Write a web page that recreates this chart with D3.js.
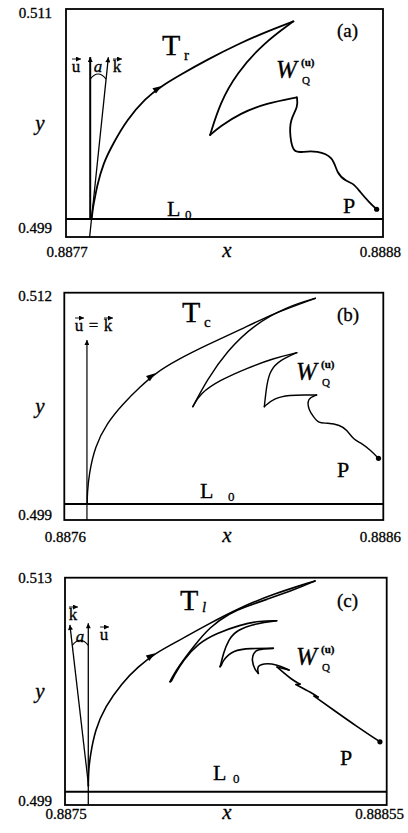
<!DOCTYPE HTML>
<html lang="en">
<head>
<meta charset="UTF-8">
<title>Trajectories T_r, T_c, T_l</title>
<style>
  body { margin: 0; background: #fff; }
  svg { display: block; font-family: "Liberation Serif", "Times New Roman", Times, serif; }
  svg text { stroke: #000; stroke-width: 0.3px; }
</style>
</head>
<body>
<script src="https://cdn.jsdelivr.net/npm/d3@7/dist/d3.min.js"></script>
<script>
// ---- panel (a)
var xDomainA = [0.8877, 0.8888], yDomainA = [0.499, 0.511];
var xTicksA = ['0.8877', '0.8888'], yTicksA = ['0.499', '0.511'];
var levelA = 0.49995;
var pointA = [0.888778, 0.50046];
var uA = [[0.887784, 0.49995], [0.887784, 0.50847]];
var kA = [[0.887782, 0.499], [0.887847, 0.50846]];
var trajA = [
  [0.887789, 0.49995], [0.887794, 0.50060], [0.887799, 0.50095], [0.887807, 0.50165],
  [0.887829, 0.50288], [0.887864, 0.50393], [0.887911, 0.50516], [0.887975, 0.50630],
  [0.888032, 0.50695], [0.888096, 0.50753], [0.888188, 0.50832], [0.888304, 0.50920],
  [0.888396, 0.50981], [0.888489, 0.51035]
];
var wingA = [
  [0.888385, 0.50920], [0.888292, 0.50762], [0.888234, 0.50604], [0.888200, 0.50437],
  [0.888234, 0.50481], [0.888304, 0.50551], [0.888396, 0.50604], [0.888501, 0.50635],
  [0.888506, 0.50586], [0.888477, 0.50516], [0.888477, 0.50428], [0.888489, 0.50341],
  [0.888523, 0.50349], [0.888570, 0.50354], [0.888628, 0.50323], [0.888639, 0.50235],
  [0.888674, 0.50191], [0.888697, 0.50183], [0.888720, 0.50138], [0.888755, 0.50077],
  [0.888778, 0.50046]
];

// ---- panel (b)
var xDomainB = [0.8876, 0.8886], yDomainB = [0.499, 0.512];
var xTicksB = ['0.8876', '0.8886'], yTicksB = ['0.499', '0.512'];
var levelB = 0.49992;
var pointB = [0.888585, 0.50253];
var uB = [[0.887671, 0.499], [0.887671, 0.50929]];
var trajB = [
  [0.887672, 0.49992], [0.887672, 0.50053], [0.887678, 0.50167], [0.887696, 0.50319],
  [0.887733, 0.50453], [0.887785, 0.50567], [0.887838, 0.50662], [0.887885, 0.50739],
  [0.887953, 0.50815], [0.888047, 0.50901], [0.888151, 0.50987], [0.888256, 0.51082],
  [0.888387, 0.51168]
];
var wingB = [
  [0.888298, 0.51120], [0.888193, 0.51015], [0.888110, 0.50866], [0.888047, 0.50701],
  [0.888003, 0.50548], [0.888026, 0.50625], [0.888089, 0.50701], [0.888172, 0.50768],
  [0.888256, 0.50825], [0.888329, 0.50857], [0.888277, 0.50815], [0.888246, 0.50758],
  [0.888235, 0.50682], [0.888227, 0.50548], [0.888256, 0.50596], [0.888308, 0.50615],
  [0.888355, 0.50615], [0.888391, 0.50615], [0.888361, 0.50596], [0.888366, 0.50529],
  [0.888381, 0.50491], [0.888397, 0.50453], [0.888423, 0.50456], [0.888465, 0.50443],
  [0.888486, 0.50415], [0.888507, 0.50358], [0.888533, 0.50339], [0.888559, 0.50300],
  [0.888585, 0.50253]
];

// ---- panel (c)
var xDomainC = [0.8875, 0.88855], yDomainC = [0.499, 0.513];
var xTicksC = ['0.8875', '0.88855'], yTicksC = ['0.499', '0.513'];
var levelC = 0.49982;
var pointC = [0.888528, 0.50289];
var uC = [[0.887576, 0.499], [0.887576, 0.51019]];
var kC = [[0.887577, 0.50017], [0.887516, 0.51009]];
var trajC = [
  [0.887576, 0.50017], [0.887577, 0.50116], [0.887582, 0.50198], [0.887598, 0.50362],
  [0.887631, 0.50505], [0.887685, 0.50650], [0.887739, 0.50752], [0.887794, 0.50834],
  [0.887865, 0.50906], [0.887962, 0.51009], [0.888071, 0.51116], [0.888180, 0.51200],
  [0.888316, 0.51280]
];
var wingC = [
  [0.888251, 0.51227], [0.888153, 0.51163], [0.888088, 0.51120], [0.888039, 0.51083],
  [0.887973, 0.50998], [0.887919, 0.50875], [0.887870, 0.50752], [0.887846, 0.50675],
  [0.887843, 0.50659], [0.887848, 0.50662], [0.887854, 0.50690], [0.887886, 0.50793],
  [0.887935, 0.50896], [0.887995, 0.50958], [0.888071, 0.51009], [0.888137, 0.51035],
  [0.888191, 0.51035], [0.888126, 0.51019], [0.888060, 0.50978], [0.888033, 0.50916],
  [0.888017, 0.50834], [0.888008, 0.50762], [0.888006, 0.50752], [0.888010, 0.50756],
  [0.888014, 0.50788], [0.888049, 0.50855], [0.888104, 0.50865], [0.888180, 0.50865],
  [0.888126, 0.50859], [0.888115, 0.50834], [0.888109, 0.50793], [0.888120, 0.50731],
  [0.888131, 0.50711], [0.888126, 0.50752], [0.888147, 0.50773], [0.888189, 0.50768],
  [0.888231, 0.50731], [0.888192, 0.50750], [0.888241, 0.50670], [0.888267, 0.50645],
  [0.888254, 0.50642], [0.888306, 0.50590], [0.888326, 0.50565], [0.888313, 0.50571],
  [0.888381, 0.50479], [0.888450, 0.50387], [0.888528, 0.50289]
];

var panels = [
  { tag: '(a)', sub: 'r', subItalic: false, frame: [66, 383, 9, 237],
    xDomain: xDomainA, yDomain: yDomainA, xTicks: xTicksA, yTicks: yTicksA,
    level: levelA, point: pointA, traj: trajA, wing: wingA, arrowAt: 8,
    u: uA, k: kA, uWidth: 2, curveWidth: 1.8,
    yTickBase: [233, 18], xTickBase: 257, rightTickEnd: 401 },
  { tag: '(b)', sub: 'c', subItalic: false, frame: [64.3, 383.3, 292.7, 520],
    xDomain: xDomainB, yDomain: yDomainB, xTicks: xTicksB, yTicks: yTicksB,
    level: levelB, point: pointB, traj: trajB, wing: wingB, arrowAt: 7,
    u: uB, k: null, uWidth: 1.2, curveWidth: 1.4,
    yTickBase: [520, 301], xTickBase: 542, rightTickEnd: 401 },
  { tag: '(c)', sub: 'l', subItalic: true, frame: [65, 386.7, 577.7, 805],
    xDomain: xDomainC, yDomain: yDomainC, xTicks: xTicksC, yTicks: yTicksC,
    level: levelC, point: pointC, traj: trajC, wing: wingC, arrowAt: 7,
    u: uC, k: kC, uWidth: 1.3, curveWidth: 1.6,
    yTickBase: [806, 583], xTickBase: 819, rightTickEnd: 404 }
];

var svg = d3.select('body').append('svg')
    .attr('width', 408)
    .attr('height', 833);

var defs = svg.append('defs');
defs.append('marker')
    .attr('id', 'vec')
    .attr('viewBox', '0 0 10 10')
    .attr('refX', 10).attr('refY', 5)
    .attr('markerUnits', 'userSpaceOnUse')
    .attr('markerWidth', 7).attr('markerHeight', 5)
    .attr('orient', 'auto')
  .append('path')
    .attr('d', 'M0,0L10,5L0,10z');

function txt(g, x, y, s, size, opts) {
  opts = opts || {};
  return g.append('text')
      .attr('x', x).attr('y', y)
      .attr('font-size', size)
      .attr('text-anchor', opts.anchor || 'start')
      .attr('font-style', opts.italic ? 'italic' : null)
      .attr('font-weight', opts.bold ? 'bold' : null)
      .text(s);
}

// a letter with a little vector arrow above it
function vecLabel(g, cx, base, letter) {
  txt(g, cx, base, letter, 17, { anchor: 'middle' });
  g.append('line')
      .attr('x1', cx - 4).attr('x2', cx + 5)
      .attr('y1', base - 13).attr('y2', base - 13)
      .attr('stroke', '#000').attr('stroke-width', 0.9)
      .attr('marker-end', 'url(#vec)');
}

// cut a screen-space polyline where it turns back (cusps, tips of the front)
function strands(pts) {
  var out = [], cur = [pts[0]];
  for (var i = 1; i < pts.length; i++) {
    cur.push(pts[i]);
    if (i < pts.length - 1) {
      var ax = pts[i][0] - pts[i - 1][0], ay = pts[i][1] - pts[i - 1][1];
      var bx = pts[i + 1][0] - pts[i][0], by = pts[i + 1][1] - pts[i][1];
      if (ax * bx + ay * by < 0) {
        out.push(cur);
        cur = [pts[i]];
      }
    }
  }
  out.push(cur);
  return out;
}

panels.forEach(function(p, i) {
  var f = p.frame;
  var x = d3.scaleLinear().domain(p.xDomain).range([f[0], f[1]]);
  var y = d3.scaleLinear().domain(p.yDomain).range([f[3], f[2]]);
  var g = svg.append('g');
  var line = d3.line().curve(d3.curveBasis);

  // L0
  g.append('line')
      .attr('x1', f[0]).attr('x2', f[1])
      .attr('y1', y(p.level)).attr('y2', y(p.level))
      .attr('stroke', '#000').attr('stroke-width', 2);

  // vectors u, k
  g.append('line')
      .attr('x1', x(p.u[0][0])).attr('y1', y(p.u[0][1]))
      .attr('x2', x(p.u[1][0])).attr('y2', y(p.u[1][1]))
      .attr('stroke', '#000').attr('stroke-width', p.uWidth)
      .attr('marker-end', 'url(#vec)');
  if (p.k) {
    g.append('line')
        .attr('x1', x(p.k[0][0])).attr('y1', y(p.k[0][1]))
        .attr('x2', x(p.k[1][0])).attr('y2', y(p.k[1][1]))
        .attr('stroke', '#000').attr('stroke-width', 1.3)
        .attr('marker-end', 'url(#vec)');
  }

  // trajectory + wave front, drawn strand by strand so the cusps stay sharp
  var screen = p.traj.concat(p.wing).map(function(d) { return [x(d[0]), y(d[1])]; });
  g.selectAll('path.front')
      .data(strands(screen))
    .enter().append('path')
      .attr('class', 'front')
      .attr('d', function(d) { return line(d); })
      .attr('fill', 'none')
      .attr('stroke', '#000')
      .attr('stroke-width', p.curveWidth)
      .attr('stroke-linejoin', 'round')
      .attr('stroke-linecap', 'round');

  // direction arrow on the trajectory
  var a0 = p.traj[p.arrowAt - 1], a1 = p.traj[p.arrowAt], a2 = p.traj[p.arrowAt + 1];
  var ang = Math.atan2(y(a2[1]) - y(a0[1]), x(a2[0]) - x(a0[0])) * 180 / Math.PI;
  g.append('path')
      .attr('d', 'M-9,-3.2L0,0L-9,3.2z')
      .attr('transform', 'translate(' + x(a1[0]) + ',' + y(a1[1]) + ') rotate(' + ang + ')');

  // point P
  g.append('circle')
      .attr('cx', x(p.point[0])).attr('cy', y(p.point[1]))
      .attr('r', 2.6);

  // frame
  g.append('rect')
      .attr('x', f[0]).attr('y', f[2])
      .attr('width', f[1] - f[0]).attr('height', f[3] - f[2])
      .attr('fill', 'none').attr('stroke', '#000').attr('stroke-width', 1.8);

  // tick labels
  txt(g, 52, p.yTickBase[0], p.yTicks[0], 15, { anchor: 'end' });
  txt(g, 52, p.yTickBase[1], p.yTicks[1], 15, { anchor: 'end' });
  txt(g, x(p.xDomain[0]) + 1, p.xTickBase, p.xTicks[0], 15, { anchor: 'middle' });
  txt(g, p.rightTickEnd, p.xTickBase, p.xTicks[1], 15, { anchor: 'end' });

  // axis names
  var midY = (f[2] + f[3]) / 2;
  txt(g, 40, midY + 7, 'y', 21, { anchor: 'middle', italic: true });
  txt(g, 227, p.xTickBase, 'x', 21, { anchor: 'middle', italic: true });

  // panel tag
  txt(g, 337, f[2] + [28, 28.5, 29][i], p.tag, 19);

  // T with subscript
  var tPos = [[162, 55], [182, 322], [180, 610]][i];
  txt(g, tPos[0], tPos[1], 'T', 30);
  txt(g, tPos[0] + 22, tPos[1] + (p.subItalic ? 2 : 5), p.sub, 15, { italic: p.subItalic });

  // W_Q^(u)
  var wPos = [[276, 78], [296, 380], [296, 665]][i];
  txt(g, wPos[0], wPos[1], 'W', 25, { italic: true });
  txt(g, wPos[0] + 26, wPos[1] + 6, 'Q', 11);
  txt(g, wPos[0] + 25, wPos[1] - 12, '(u)', 11, { bold: true });

  // P
  var pPos = [[343, 213], [337, 477], [340, 765]][i];
  txt(g, pPos[0], pPos[1], 'P', 22);

  // L0
  var lPos = [[167, 216, 18], [200, 498, 28], [213, 780, 20]][i];
  txt(g, lPos[0], lPos[1], 'L', 22);
  txt(g, lPos[0] + lPos[2], lPos[1] + 3, '0', 13);

  // vector labels and angle
  if (i === 0) {
    vecLabel(g, 76, 72, 'u');
    vecLabel(g, 117, 72, 'k');
    txt(g, 98, 72, 'a', 17, { anchor: 'middle', italic: true });
  } else if (i === 1) {
    vecLabel(g, 79, 331, 'u');
    txt(g, 93.5, 331, '=', 17, { anchor: 'middle' });
    vecLabel(g, 108, 331, 'k');
  } else {
    vecLabel(g, 73, 620, 'k');
    vecLabel(g, 104, 640, 'u');
    txt(g, 80, 642, 'a', 17, { anchor: 'middle', italic: true });
  }

  if (p.k) {
    // small arc between u and k, a few pixels below the arrow tips
    var ux = x(p.u[0][0]);
    var k0 = [x(p.k[0][0]), y(p.k[0][1])], k1 = [x(p.k[1][0]), y(p.k[1][1])];
    var yy = y(p.u[1][1]) + 22;
    var t = (k0[1] - yy) / (k0[1] - k1[1]);
    var kx = k0[0] + t * (k1[0] - k0[0]);
    var arc = d3.path();
    arc.moveTo(ux, yy);
    arc.quadraticCurveTo((ux + kx) / 2, yy - 10, kx, yy);
    g.append('path')
        .attr('d', arc.toString())
        .attr('fill', 'none').attr('stroke', '#000').attr('stroke-width', 1.1);
  }
});
</script>
</body>
</html>
